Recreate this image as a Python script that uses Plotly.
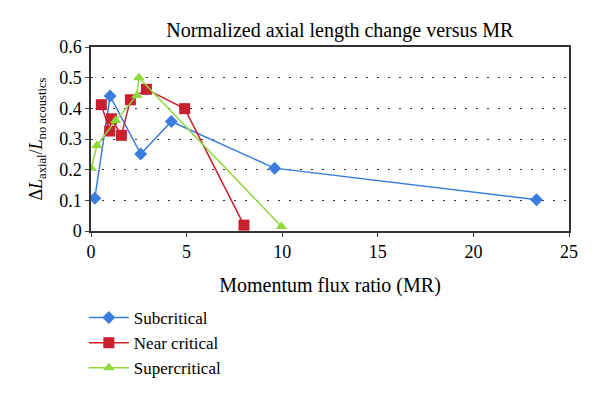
import plotly.graph_objects as go

sub_x = [0.2, 1.0, 2.6, 4.2, 9.6, 23.3]
sub_y = [0.107, 0.44, 0.251, 0.357, 0.205, 0.102]

near_x = [0.54, 0.98, 1.07, 1.59, 2.06, 2.9, 4.9, 8.0]
near_y = [0.412, 0.326, 0.366, 0.312, 0.428, 0.462, 0.399, 0.019]

super_x = [0.02, 0.31, 1.29, 2.4, 2.51, 9.96]
super_y = [0.205, 0.279, 0.36, 0.442, 0.50, 0.015]

font = "Liberation Serif"
fig = go.Figure()
fig.add_trace(go.Scatter(x=sub_x, y=sub_y, name="Subcritical", mode="lines+markers",
                         line=dict(color="#3B7DDD", width=1.5),
                         marker=dict(symbol="diamond", size=10, color="#3B7DDD")))
fig.add_trace(go.Scatter(x=near_x, y=near_y, name="Near critical", mode="lines+markers",
                         line=dict(color="#C8202F", width=1.5),
                         marker=dict(symbol="square", size=11, color="#C8202F")))
fig.add_trace(go.Scatter(x=super_x, y=super_y, name="Supercritical", mode="lines+markers",
                         line=dict(color="#8ED83A", width=1.5),
                         marker=dict(symbol="triangle-up", size=10, color="#8ED83A")))

fig.update_layout(
    width=600, height=398,
    margin=dict(l=83, r=39, t=39, b=175, autoexpand=False),
    paper_bgcolor="white", plot_bgcolor="white",
    font=dict(family=font, size=18, color="black"),
    title=dict(text="Normalized axial length change versus MR", x=0.553, xanchor="center",
               y=1 - 22/398, yanchor="middle", font=dict(family=font, size=20)),
    xaxis=dict(range=[0, 25], tickvals=[0, 5, 10, 15, 20, 25], ticks="outside", ticklen=4,
               showgrid=False, zeroline=False, showline=True, linecolor="#333", linewidth=1.5,
               mirror=True, automargin=False,
               title=dict(text="Momentum flux ratio (MR)", standoff=17,
                          font=dict(family=font, size=20)),
               tickfont=dict(family=font, size=18)),
    yaxis=dict(range=[0, 0.6], tickvals=[0, 0.1, 0.2, 0.3, 0.4, 0.5, 0.6],
               ticktext=["0", "0.1", "0.2", "0.3", "0.4", "0.5", "0.6"],
               ticks="outside", ticklen=4, automargin=False,
               showgrid=True, gridcolor="#333", griddash="2px,9px", gridwidth=1,
               zeroline=False, showline=True, linecolor="#333", linewidth=1.5, mirror=True,
               title=dict(text="Δ<i>L</i><sub>axial</sub>/<i>L</i><sub>no acoustics</sub>",
                          standoff=12, font=dict(family=font, size=18)),
               tickfont=dict(family=font, size=18)),
    legend=dict(x=-0.015, xanchor="left", y=-0.375, yanchor="top", orientation="v",
                font=dict(family=font, size=17), bgcolor="rgba(0,0,0,0)", tracegroupgap=0,
                itemwidth=40),
    showlegend=True,
)
fig.write_html("out.html")
